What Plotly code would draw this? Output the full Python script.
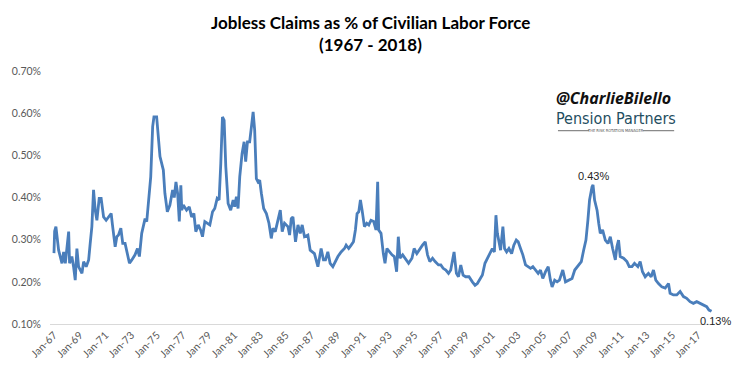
import plotly.graph_objects as go
import pandas as pd

# ---- data (decimal year, claims as % of civilian labor force) ----
week_year = [
    1967.00, 1967.05, 1967.15, 1967.36, 1967.62, 1967.75, 1967.88, 1968.14, 1968.21, 1968.39,
    1968.52, 1968.65, 1968.78, 1968.91, 1969.17, 1969.30, 1969.50, 1969.69, 1969.81, 1969.94,
    1970.07, 1970.20, 1970.33, 1970.51, 1970.66, 1970.85, 1971.05, 1971.23, 1971.44, 1971.54,
    1971.75, 1971.88, 1972.01, 1972.19, 1972.34, 1972.52, 1972.70, 1972.86, 1973.04, 1973.29,
    1973.48, 1973.63, 1973.81, 1973.94, 1974.07, 1974.20, 1974.33, 1974.51, 1974.66, 1974.76,
    1974.97, 1975.23, 1975.49, 1975.61, 1975.80, 1976.00, 1976.21, 1976.34, 1976.47, 1976.60,
    1976.73, 1976.85, 1976.92, 1977.04, 1977.29, 1977.50, 1977.68, 1977.86, 1978.01, 1978.20,
    1978.38, 1978.53, 1978.71, 1978.90, 1979.10, 1979.31, 1979.48, 1979.67, 1979.82, 1979.95,
    1980.08, 1980.21, 1980.34, 1980.52, 1980.72, 1980.91, 1981.03, 1981.16, 1981.29, 1981.42,
    1981.60, 1981.76, 1981.88, 1982.02, 1982.19, 1982.33, 1982.46, 1982.58, 1982.71, 1982.84,
    1982.97, 1983.10, 1983.28, 1983.49, 1983.69, 1983.87, 1984.00, 1984.18, 1984.39, 1984.57,
    1984.72, 1984.90, 1985.16, 1985.29, 1985.42, 1985.55, 1985.75, 1985.94, 1986.12, 1986.27,
    1986.45, 1986.71, 1986.89,
    1987.22, 1987.49, 1987.74, 1987.92, 1988.08, 1988.26, 1988.44, 1988.65, 1988.85, 1989.04,
    1989.29, 1989.55, 1989.68, 1989.88, 1990.07, 1990.25, 1990.40, 1990.53, 1990.66, 1990.79,
    1990.92, 1991.10, 1991.28, 1991.44, 1991.61, 1991.82, 1992.00, 1992.13, 1992.21, 1992.39,
    1992.57, 1992.70, 1992.85, 1993.03, 1993.24, 1993.42, 1993.60, 1993.73, 1993.86, 1994.07,
    1994.27, 1994.53, 1994.79, 1994.96, 1995.17, 1995.41, 1995.61, 1995.82, 1996.00, 1996.18,
    1996.39, 1996.59, 1996.85, 1997.03, 1997.21, 1997.42, 1997.63, 1997.80, 1998.06, 1998.24,
    1998.40, 1998.58, 1998.76, 1998.96, 1999.22, 1999.48, 1999.69, 1999.87,
    2000.07, 2000.26, 2000.46, 2000.65, 2000.85, 2001.03, 2001.19, 2001.31, 2001.42, 2001.54,
    2001.67, 2001.85, 2001.98, 2002.14, 2002.32, 2002.53, 2002.70, 2002.89, 2003.04, 2003.22,
    2003.40, 2003.61, 2003.82, 2004.00, 2004.18, 2004.38, 2004.59, 2004.77, 2004.95, 2005.16,
    2005.37, 2005.54, 2005.67, 2005.87, 2006.06, 2006.24, 2006.50, 2006.71, 2006.92, 2007.22,
    2007.43, 2007.61, 2007.79, 2007.94, 2008.12, 2008.30, 2008.45, 2008.58, 2008.77, 2008.85,
    2008.97, 2009.16, 2009.29, 2009.41, 2009.59, 2009.80, 2010.01, 2010.19, 2010.37, 2010.58,
    2010.70, 2010.83, 2010.96, 2011.22, 2011.48, 2011.66, 2011.87, 2012.07, 2012.33, 2012.51,
    2012.69, 2012.90, 2013.15, 2013.36, 2013.54, 2013.72, 2013.93, 2014.19, 2014.45, 2014.71,
    2014.83, 2015.09, 2015.35, 2015.61, 2015.87, 2016.12, 2016.38, 2016.64, 2016.90, 2017.15,
    2017.41, 2017.67, 2017.85, 2018.05,
]

claims_pct = [
    0.268, 0.320, 0.331, 0.275, 0.244, 0.271, 0.244, 0.319, 0.244, 0.260,
    0.236, 0.204, 0.279, 0.236, 0.220, 0.248, 0.236, 0.252, 0.291, 0.331,
    0.418, 0.370, 0.346, 0.398, 0.398, 0.354, 0.346, 0.354, 0.362, 0.335,
    0.283, 0.307, 0.311, 0.327, 0.291, 0.291, 0.264, 0.244, 0.252, 0.264,
    0.279, 0.260, 0.315, 0.331, 0.350, 0.343, 0.386, 0.449, 0.568, 0.591,
    0.591, 0.497, 0.465, 0.410, 0.366, 0.382, 0.418, 0.400, 0.437, 0.410,
    0.343, 0.429, 0.370, 0.382, 0.370, 0.378, 0.354, 0.362, 0.319, 0.335,
    0.323, 0.307, 0.343, 0.339, 0.335, 0.366, 0.374, 0.398, 0.394, 0.481,
    0.591, 0.583, 0.473, 0.386, 0.370, 0.394, 0.378, 0.402, 0.374, 0.449,
    0.504, 0.532, 0.485, 0.532, 0.532, 0.568, 0.603, 0.560, 0.445, 0.437,
    0.441, 0.410, 0.374, 0.362, 0.339, 0.303, 0.327, 0.319, 0.343, 0.370,
    0.319, 0.339, 0.331, 0.311, 0.350, 0.354, 0.295, 0.335, 0.315, 0.335,
    0.307, 0.311, 0.275,
    0.267, 0.236, 0.279, 0.252, 0.252, 0.271, 0.244, 0.236, 0.248, 0.260,
    0.271, 0.279, 0.287, 0.279, 0.287, 0.295, 0.323, 0.362, 0.366, 0.394,
    0.370, 0.331, 0.339, 0.335, 0.346, 0.343, 0.323, 0.437, 0.323, 0.315,
    0.267, 0.244, 0.279, 0.271, 0.264, 0.260, 0.224, 0.307, 0.256, 0.264,
    0.256, 0.244, 0.256, 0.279, 0.267, 0.279, 0.287, 0.295, 0.264, 0.248,
    0.256, 0.248, 0.240, 0.240, 0.232, 0.228, 0.220, 0.228, 0.271, 0.220,
    0.212, 0.240, 0.216, 0.212, 0.212, 0.200, 0.192, 0.196,
    0.208, 0.216, 0.244, 0.256, 0.271, 0.279, 0.271, 0.358, 0.315, 0.291,
    0.275, 0.331, 0.279, 0.271, 0.279, 0.267, 0.287, 0.299, 0.295, 0.279,
    0.264, 0.240, 0.236, 0.232, 0.236, 0.228, 0.220, 0.228, 0.208, 0.224,
    0.236, 0.204, 0.188, 0.204, 0.200, 0.204, 0.228, 0.200, 0.204, 0.208,
    0.228, 0.236, 0.244, 0.248, 0.275, 0.299, 0.346, 0.394, 0.425, 0.430,
    0.394, 0.370, 0.339, 0.315, 0.323, 0.299, 0.291, 0.307, 0.279, 0.252,
    0.283, 0.299, 0.260, 0.256, 0.248, 0.236, 0.236, 0.244, 0.236, 0.248,
    0.224, 0.212, 0.220, 0.212, 0.228, 0.204, 0.196, 0.188, 0.185, 0.196,
    0.173, 0.169, 0.169, 0.177, 0.165, 0.161, 0.153, 0.149, 0.153, 0.149,
    0.145, 0.141, 0.133, 0.130,
]

title_lines = ["Jobless Claims as % of Civilian Labor Force", "(1967 - 2018)"]
y_ticks = [0.10, 0.20, 0.30, 0.40, 0.50, 0.60, 0.70]


def to_date(y):
    yr = int(y)
    return pd.Timestamp(yr, 1, 1) + pd.Timedelta(days=(y - yr) * 365.25)


dates = [to_date(y) for y in week_year]

LINE = "#4A7EBB"
TICK = "#595959"

fig = go.Figure()
fig.add_trace(go.Scatter(
    x=dates, y=claims_pct, mode="lines",
    line=dict(color=LINE, width=2.8),
    hoverinfo="skip", showlegend=False,
))

# data labels: 2008-09 peak and latest value
late = [i for i, y in enumerate(week_year) if y > 2005]
peak_i = max(late, key=lambda i: claims_pct[i])
last_i = len(claims_pct) - 1
ann = [
    dict(x=dates[peak_i], y=claims_pct[peak_i], xref="x", yref="y",
         text=f"{claims_pct[peak_i]:.2f}%", showarrow=False,
         yanchor="bottom", yshift=1,
         font=dict(family="Liberation Sans, Arial", size=11, color="#262626")),
    dict(x=dates[last_i], y=claims_pct[last_i], xref="x", yref="y",
         text=f"{claims_pct[last_i]:.2f}%", showarrow=False,
         xanchor="center", yanchor="top", xshift=4, yshift=-2,
         font=dict(family="Liberation Sans, Arial", size=11, color="#262626")),
    dict(x=0.482, y=1.19, xref="paper", yref="paper", text=f"<b>{title_lines[0]}</b>",
         showarrow=False, xanchor="center", yanchor="middle",
         font=dict(family="Lato, Open Sans", size=17, color="#000000")),
    dict(x=0.482, y=1.103, xref="paper", yref="paper", text=f"<b>{title_lines[1]}</b>",
         showarrow=False, xanchor="center", yanchor="middle",
         font=dict(family="Lato, Open Sans", size=17, color="#000000")),
    dict(x=0.848, y=0.893, xref="paper", yref="paper", text="<b><i>@CharlieBilello</i></b>",
         showarrow=False, xanchor="center", yanchor="middle",
         font=dict(family="Open Sans, DejaVu Sans", size=16, color="#111111")),
    dict(x=0.852, y=0.814, xref="paper", yref="paper", text="Pension Partners",
         showarrow=False, xanchor="center", yanchor="middle",
         font=dict(family="Liberation Sans Narrow, DejaVu Sans Condensed, Roboto", size=16,
                   color="#1F4E61")),
    dict(x=0.852, y=0.764, xref="paper", yref="paper", text="THE RISK ROTATION MANAGER",
         showarrow=False, xanchor="center", yanchor="middle",
         font=dict(family="Liberation Sans Narrow, DejaVu Sans Condensed", size=4,
                   color="#555555")),
]

shapes = [
    dict(type="line", xref="paper", yref="paper", x0=0.765, x1=0.812, y0=0.764, y1=0.764,
         line=dict(color="#6d6d6d", width=1)),
    dict(type="line", xref="paper", yref="paper", x0=0.893, x1=0.94, y0=0.764, y1=0.764,
         line=dict(color="#6d6d6d", width=1)),
]

fig.update_layout(
    width=737, height=384,
    margin=dict(l=48, r=23, t=71, b=60),
    paper_bgcolor="white", plot_bgcolor="white",
    annotations=ann, shapes=shapes,
    showlegend=False,
    xaxis=dict(
        type="date",
        range=[to_date(1966.69), to_date(2018.24)],
        tick0="1967-01-01", dtick="M24", tickformat="%b-%y",
        tickangle=-45, ticks="", showgrid=False, zeroline=False,
        showline=True, linecolor="#D9D9D9", linewidth=1,
        tickfont=dict(family="Lato, Open Sans", size=10.5, color=TICK),
    ),
    yaxis=dict(
        range=[0.10, 0.70], tickvals=y_ticks,
        ticktext=[f"{v:.2f}%" for v in y_ticks],
        showgrid=False, zeroline=False, showline=False, ticks="",
        tickfont=dict(family="Lato, Open Sans", size=10.5, color=TICK),
        ticklabelstandoff=8,
    ),
)

fig.write_html("out.html", config={"displayModeBar": False},
               post_script="document.body.style.margin='0';")
